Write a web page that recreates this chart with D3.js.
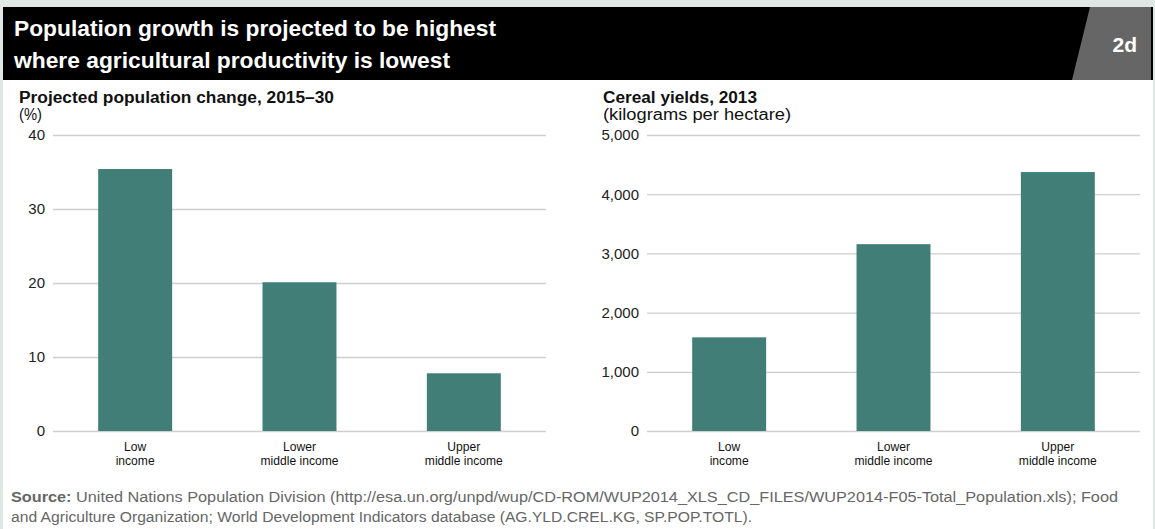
<!DOCTYPE html>
<html><head><meta charset="utf-8">
<script src="https://cdn.jsdelivr.net/npm/d3@7"></script>
<style>
html,body{margin:0;padding:0;background:#dfe8e5;}
svg{display:block;font-family:"Liberation Sans",Arial,sans-serif;}
</style></head>
<body><svg id="c" width="1155" height="529"></svg>
<script>
const categories = [["Low","income"],["Lower","middle income"],["Upper","middle income"]];
const popChange = [35.4, 20.1, 7.8];
const cerealYields = [1582, 3156, 4374];
const popTicks = [0, 10, 20, 30, 40];
const yieldTicks = [0, 1000, 2000, 3000, 4000, 5000];
const titleLines = ["Population growth is projected to be highest", "where agricultural productivity is lowest"];
const badge = "2d";
const leftTitle = ["Projected population change, 2015\u201330", "(%)"];
const rightTitle = ["Cereal yields, 2013", "(kilograms per hectare)"];
const sourceLines = ["United Nations Population Division (http://esa.un.org/unpd/wup/CD-ROM/WUP2014_XLS_CD_FILES/WUP2014-F05-Total_Population.xls); Food",
  "and Agriculture Organization; World Development Indicators database (AG.YLD.CREL.KG, SP.POP.TOTL)."];

const svg = d3.select("#c");
// background panels
svg.append("rect").attr("x",3).attr("y",7).attr("width",1150).attr("height",522).attr("fill","#fff");
svg.append("rect").attr("x",3).attr("y",7).attr("width",1150).attr("height",73).attr("fill","#000");
svg.append("path").attr("d","M1090,7 L1151,7 L1151,80 L1072,80 Z").attr("fill","#666");
svg.append("text").attr("x",1137).attr("y",52).attr("text-anchor","end").attr("fill","#fff")
  .attr("font-weight","bold").attr("font-size",21).text(badge);

const tl = [[14,36,482],[14,68,436]];
titleLines.forEach((t,i)=>{
  svg.append("text").attr("x",tl[i][0]).attr("y",tl[i][1]).attr("fill","#fff")
    .attr("font-weight","bold").attr("font-size",22)
    .attr("textLength",tl[i][2]).attr("lengthAdjust","spacingAndGlyphs").text(t);
});

function panel(opts){
  const {x0,x1,vals,ticks,fmt,title,tw} = opts;
  const y = d3.scaleLinear().domain([0, ticks[ticks.length-1]]).range([431,135]);
  const x = d3.scaleBand().domain(categories.map(c=>c.join(" "))).range([x0,x1]).paddingInner(0.55).paddingOuter(0.275);
  const g = svg.append("g");
  const ax = g.append("g").attr("transform",`translate(${x0},0)`)
    .call(d3.axisLeft(y).tickValues(ticks).tickSize(-(x1-x0)).tickPadding(8).tickFormat(fmt));
  ax.select(".domain").remove();
  ax.selectAll(".tick line").attr("stroke","#cfcfcf").attr("stroke-width",1.3);
  ax.selectAll(".tick text").attr("font-size",15).attr("fill","#222").attr("font-family","Liberation Sans, Arial, sans-serif");
  g.selectAll("rect.bar").data(vals).join("rect").attr("class","bar")
    .attr("x",(d,i)=>x(categories[i].join(" "))).attr("width",x.bandwidth())
    .attr("y",d=>y(d)).attr("height",d=>y(0)-y(d)).attr("fill","#407e77");
  const xa = g.append("g").attr("transform","translate(0,431)")
    .call(d3.axisBottom(x).tickSize(0).tickFormat(""));
  xa.select(".domain").remove();
  categories.forEach((c,i)=>{
    const cx = x(c.join(" ")) + x.bandwidth()/2;
    c.forEach((line,j)=>{
      g.append("text").attr("x",cx).attr("y",451.5+j*13.5).attr("text-anchor","middle")
        .attr("font-size",13).attr("fill","#111")
        .attr("transform",`translate(${cx},0) scale(0.93,1) translate(${-cx},0)`)
        .text(line);
    });
  });
  g.append("text").attr("x",title.x).attr("y",103).attr("font-size",16).attr("font-weight","bold").attr("fill","#111")
    .attr("textLength",tw[0]).attr("lengthAdjust","spacingAndGlyphs").text(title.t[0]);
  g.append("text").attr("x",title.x).attr("y",120).attr("font-size",16).attr("fill","#111")
    .attr("textLength",tw[1]).attr("lengthAdjust","spacingAndGlyphs").text(title.t[1]);
}
panel({x0:53,x1:546,vals:popChange,ticks:popTicks,fmt:d3.format("d"),title:{x:19,t:leftTitle},tw:[315,23]});
panel({x0:647,x1:1140,vals:cerealYields,ticks:yieldTicks,fmt:d3.format(","),title:{x:603,t:rightTitle},tw:[154,188]});

const src = svg.append("g");
const s1 = src.append("text").attr("x",11).attr("y",502).attr("font-size",14).attr("fill","#666")
  .attr("textLength",1107).attr("lengthAdjust","spacingAndGlyphs");
s1.append("tspan").attr("font-weight","bold").text("Source:");
s1.append("tspan").text(" " + sourceLines[0]);
src.append("text").attr("x",11).attr("y",522).attr("font-size",14).attr("fill","#666")
  .attr("textLength",741).attr("lengthAdjust","spacingAndGlyphs").text(sourceLines[1]);
</script></body></html>
